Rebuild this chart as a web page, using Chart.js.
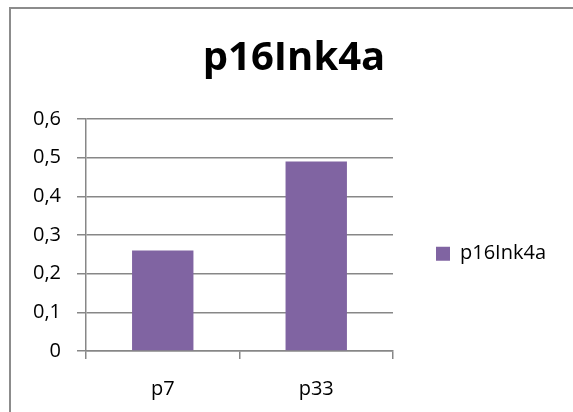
<!DOCTYPE html>
<html>
<head>
<meta charset="utf-8">
<script src="https://cdn.jsdelivr.net/npm/chart.js@4.4.1/dist/chart.umd.min.js"></script>
<style>
  body { margin: 0; background: #fff; }
  .wrap { position: relative; width: 573px; height: 412px; overflow: hidden; }
  .frame { position: absolute; left: 9px; top: 7px; width: 620px; height: 460px; border: 2px solid #8c8c8c; }
  #myChart { position: absolute; left: 0; top: 0; }
</style>
</head>
<body>
<div class="wrap">
  <div class="frame"></div>
  <canvas id="myChart" width="573" height="412"></canvas>
</div>
<script>
const categories = ['p7', 'p33'];
const seriesName = 'p16Ink4a';
const seriesValues = [0.26, 0.49];
const yTickLabels = ['0', '0,1', '0,2', '0,3', '0,4', '0,5', '0,6'];

const gridColor = '#878787';
const ctx = document.getElementById('myChart');

const chart = new Chart(ctx, {
  type: 'bar',
  data: {
    labels: categories,
    datasets: [{
      label: seriesName,
      data: seriesValues,
      backgroundColor: '#8064A2',
      borderWidth: 0,
      barPercentage: 0.4,
      categoryPercentage: 1
    }]
  },
  options: {
    responsive: false,
    animation: false,
    devicePixelRatio: 1,
    layout: { padding: { left: 32, right: 17, top: 0, bottom: 0 } },
    plugins: {
      title: {
        display: true,
        text: seriesName,
        color: '#000',
        font: { family: 'Open Sans', size: 40, weight: 'bold', lineHeight: 1.2 },
        padding: { top: 35, bottom: 36 }
      },
      legend: {
        position: 'right',
        fullSize: false,
        maxWidth: 300,
        title: { display: true, text: '', font: { size: 10, lineHeight: 1.2 }, padding: { top: 25.5, bottom: 0 } },
        labels: {
          boxWidth: 14,
          boxHeight: 14,
          padding: 43,
          color: '#000',
          font: { family: 'Open Sans', size: 20 }
        }
      },
      tooltip: { enabled: false }
    },
    scales: {
      x: {
        offset: true,
        grid: { offset: true, drawOnChartArea: false, drawTicks: true, tickLength: 8, color: gridColor, lineWidth: 1.5 },
        border: { color: gridColor, width: 1.5 },
        ticks: { color: '#000', padding: 18, font: { family: 'Open Sans', size: 20 } },
        afterFit: function(scale) { scale.height = 61; }
      },
      y: {
        min: 0,
        max: 0.6,
        ticks: {
          stepSize: 0.1,
          color: '#000',
          padding: 16,
          font: { family: 'Open Sans', size: 20 },
          callback: function(value, index) { return yTickLabels[index]; }
        },
        grid: { color: gridColor, lineWidth: 1.5, tickLength: 9 },
        border: { color: gridColor, width: 1.5 },
        afterFit: function(scale) { scale.width = 54; }
      }
    }
  }
});
</script>
</body>
</html>
